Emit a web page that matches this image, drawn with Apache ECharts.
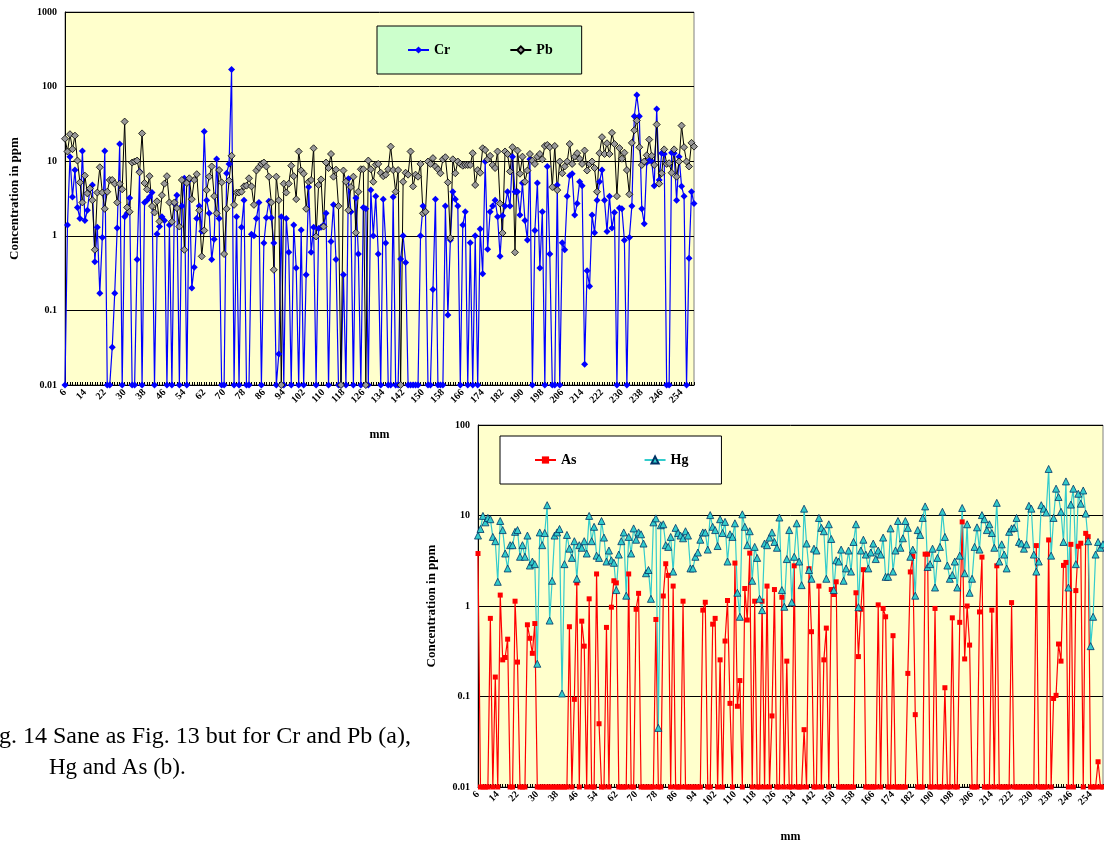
<!DOCTYPE html>
<html>
<head>
<meta charset="utf-8">
<script src="https://cdn.jsdelivr.net/npm/echarts@6/dist/echarts.min.js"></script>
<style>
  html, body { margin: 0; padding: 0; background: #fff; }
  #chart { width: 1104px; height: 844px; }
</style>
</head>
<body>
<div id="chart"></div>
<script>
// depth in mm (one point per mm)
var mm = [
  6,7,8,9,10,11,12,13,14,15,16,17,18,19,20,21,22,23,24,25,
  26,27,28,29,30,31,32,33,34,35,36,37,38,39,40,41,42,43,44,45,
  46,47,48,49,50,51,52,53,54,55,56,57,58,59,60,61,62,63,64,65,
  66,67,68,69,70,71,72,73,74,75,76,77,78,79,80,81,82,83,84,85,
  86,87,88,89,90,91,92,93,94,95,96,97,98,99,100,101,102,103,104,105,
  106,107,108,109,110,111,112,113,114,115,116,117,118,119,120,121,122,123,124,125,
  126,127,128,129,130,131,132,133,134,135,136,137,138,139,140,141,142,143,144,145,
  146,147,148,149,150,151,152,153,154,155,156,157,158,159,160,161,162,163,164,165,
  166,167,168,169,170,171,172,173,174,175,176,177,178,179,180,181,182,183,184,185,
  186,187,188,189,190,191,192,193,194,195,196,197,198,199,200,201,202,203,204,205,
  206,207,208,209,210,211,212,213,214,215,216,217,218,219,220,221,222,223,224,225,
  226,227,228,229,230,231,232,233,234,235,236,237,238,239,240,241,242,243,244,245,
  246,247,248,249,250,251,252,253,254,255,256,257,258,259
];

// (a) Cr and Pb, ppm
var cr = [
  0.01, 1.4, 11.5, 3.3, 7.6, 2.4, 1.7, 13.7, 1.6, 2.2,
  4.2, 4.8, 0.45, 1.3, 0.17, 0.95, 13.7, 0.01, 0.01, 0.032,
  0.17, 1.27, 17, 0.01, 1.8, 2.0, 3.2, 0.01, 0.01, 0.48,
  7.3, 0.01, 2.8, 3.0, 3.3, 3.8, 0.01, 1.06, 1.33, 1.8,
  1.6, 0.01, 1.4, 0.01, 2.7, 3.5, 0.01, 2.5, 5.9, 0.01,
  5.6, 0.2, 0.38, 1.7, 2.5, 1.15, 25, 3.0, 2.0, 0.48,
  0.9, 10.7, 1.7, 0.01, 0.01, 6.9, 9.2, 170, 0.01, 1.8,
  0.01, 1.3, 3.0, 0.01, 0.01, 1.05, 1.0, 1.7, 2.8, 0.01,
  0.8, 1.75, 2.9, 1.75, 0.8, 0.01, 0.026, 1.8, 0.01, 1.7,
  0.6, 0.01, 1.4, 0.37, 0.01, 1.2, 0.01, 0.3, 4.5, 0.6,
  1.3, 0.01, 1.25, 1.3, 1.4, 2.0, 0.01, 0.84, 2.6, 0.48,
  0.01, 0.01, 0.3, 0.01, 5.8, 2.1, 0.01, 3.2, 0.57, 0.01,
  2.4, 2.3, 0.01, 4.1, 1.0, 3.4, 0.57, 0.01, 3.1, 0.8,
  0.01, 0.01, 3.3, 0.01, 0.01, 0.49, 1.0, 0.44, 0.01, 0.01,
  0.01, 0.01, 0.01, 1.0, 2.5, 2.1, 0.01, 0.01, 0.19, 3.1,
  0.01, 0.01, 0.01, 2.5, 0.087, 0.88, 3.9, 3.1, 2.5, 0.01,
  1.4, 2.1, 0.01, 0.81, 0.01, 1.0, 0.01, 1.23, 0.31, 9.9,
  0.66, 2.1, 2.5, 3.0, 1.8, 0.53, 1.85, 2.5, 3.9, 2.5,
  11.5, 3.9, 3.9, 1.9, 5.1, 1.6, 0.88, 10.6, 0.01, 1.18,
  5.1, 0.37, 2.1, 0.01, 8.5, 0.57, 0.01, 0.01, 4.8, 0.01,
  0.81, 0.65, 3.4, 6.4, 6.8, 1.9, 2.7, 5.3, 4.7, 0.019,
  0.34, 0.21, 1.9, 1.1, 3.0, 5.3, 7.6, 3.0, 1.14, 3.4,
  1.27, 2.05, 0.01, 2.35, 2.3, 0.87, 0.01, 0.95, 2.5, 40,
  77, 40, 2.3, 1.45, 9.6, 10.2, 9.9, 4.7, 50, 5.6,
  12.8, 12.5, 0.01, 0.01, 13, 12.8, 3.0, 11.5, 4.6, 3.4,
  0.01, 0.5, 3.9, 2.7
];
var pb = [
  20, 13.5, 23, 14.5, 22, 10.2, 5.2, 2.8, 6.4, 3.7,
  4.3, 3.0, 0.65, 3.8, 8.3, 3.8, 2.3, 3.9, 5.6, 5.6,
  5.0, 2.8, 5.0, 4.2, 34, 2.4, 2.1, 9.6, 9.9, 10.2,
  7.1, 23.6, 5.1, 4.2, 6.3, 2.5, 2.05, 2.9, 1.56, 3.5,
  5.0, 6.3, 2.8, 1.54, 2.8, 2.35, 1.33, 5.6, 0.65, 5.1,
  5.9, 3.1, 5.6, 6.7, 2.2, 0.53, 1.18, 4.1, 6.2, 8.5,
  3.4, 2.0, 7.6, 5.2, 0.57, 2.3, 5.5, 11.8, 2.6, 3.8,
  3.8, 3.9, 4.6, 4.7, 5.9, 4.6, 2.6, 7.5, 8.3, 9.2,
  9.6, 8.5, 6.2, 2.8, 0.35, 6.2, 3.0, 0.01, 5.0, 3.8,
  5.0, 8.7, 6.3, 3.1, 13.5, 7.5, 6.8, 2.3, 5.3, 5.6,
  14.9, 0.98, 4.8, 5.7, 1.33, 9.6, 8.1, 12.5, 6.2, 7.7,
  2.5, 0.01, 7.5, 5.3, 2.2, 4.5, 6.2, 1.1, 3.9, 7.8,
  7.8, 0.01, 10.2, 7.8, 5.3, 9.0, 9.2, 7.0, 6.3, 6.6,
  7.8, 15.7, 7.6, 3.9, 7.6, 0.01, 5.3, 7.0, 6.6, 13.5,
  4.6, 6.6, 6.2, 9.2, 2.0, 2.1, 9.9, 9.2, 11, 8.5,
  7.8, 6.9, 10.6, 11.3, 5.2, 0.93, 10.6, 6.9, 9.9, 9.2,
  8.7, 8.9, 8.9, 8.9, 12.8, 4.8, 7.6, 7.0, 14.9, 14.1,
  10.6, 11.8, 8.9, 8.1, 13.5, 2.7, 1.09, 13.5, 12.5, 7.3,
  15.4, 0.6, 13.9, 6.8, 11.5, 5.3, 7.5, 12.5, 10.2, 9.2,
  11.5, 12.5, 10.6, 16, 16.5, 15.4, 4.5, 16, 4.1, 9.9,
  6.9, 8.5, 9.9, 17, 9.2, 11.5, 12.8, 10.8, 9.2, 13.9,
  7.5, 9.2, 9.9, 8.1, 3.9, 12.8, 21, 12.5, 17.4, 12.5,
  24, 17, 3.4, 15, 10.8, 13, 7.6, 3.6, 17.6, 26,
  35, 15.4, 8.9, 9.9, 12, 19.5, 11.8, 8.9, 31, 5.0,
  6.9, 14.4, 9.2, 9.4, 7.0, 14.4, 6.2, 9.9, 30, 15.4,
  9.9, 8.5, 17.6, 15.7
];

// (b) As and Hg, ppm
var as = [
  3.8, 0.01, 0.01, 0.01, 0.01, 0.73, 0.01, 0.164, 0.01, 1.32,
  0.254, 0.27, 0.43, 0.01, 0.01, 1.13, 0.24, 0.01, 0.01, 0.01,
  0.62, 0.44, 0.3, 0.64, 0.01, 0.01, 0.01, 0.01, 0.01, 0.01,
  0.01, 0.01, 0.01, 0.01, 0.01, 0.01, 0.01, 0.59, 0.01, 0.093,
  1.8, 0.01, 0.68, 0.36, 0.01, 1.2, 0.01, 0.01, 2.26, 0.05,
  0.01, 0.01, 0.58, 0.01, 0.97, 1.9, 1.8, 0.01, 0.01, 0.01,
  0.01, 2.26, 0.01, 0.01, 0.92, 1.38, 0.01, 0.01, 0.01, 0.01,
  0.01, 0.01, 0.71, 0.01, 0.01, 1.29, 2.93, 2.18, 0.01, 1.66,
  0.01, 0.01, 0.01, 1.13, 0.01, 0.01, 0.01, 0.01, 0.01, 0.01,
  0.01, 0.9, 1.1, 0.01, 0.01, 0.63, 0.73, 0.01, 0.254, 0.01,
  0.41, 1.15, 0.084, 0.01, 2.98, 0.078, 0.15, 0.01, 1.56, 0.7,
  3.84, 0.01, 1.13, 0.01, 0.01, 1.13, 0.01, 1.66, 0.01, 0.061,
  1.52, 0.01, 0.01, 1.25, 0.01, 0.246, 0.01, 0.01, 2.78, 0.01,
  0.01, 0.01, 0.043, 0.01, 2.58, 0.52, 0.01, 0.01, 1.66, 0.01,
  0.254, 0.57, 0.01, 1.52, 1.34, 1.85, 0.01, 0.01, 0.01, 0.01,
  0.01, 0.01, 0.01, 1.4, 0.276, 0.92, 2.52, 0.01, 0.01, 0.01,
  0.01, 0.01, 1.03, 0.01, 0.94, 0.76, 0.01, 0.01, 0.47, 0.01,
  0.01, 0.01, 0.01, 0.01, 0.18, 2.38, 3.53, 0.063, 0.01, 0.01,
  0.01, 3.74, 3.74, 0.01, 0.01, 0.94, 0.01, 0.01, 0.01, 0.125,
  0.01, 0.01, 0.74, 0.01, 0.01, 0.66, 8.5, 0.26, 1.0, 0.37,
  0.01, 0.01, 0.01, 0.86, 3.47, 0.01, 0.01, 0.01, 0.9, 0.01,
  2.78, 0.01, 0.01, 0.01, 0.01, 0.01, 1.09, 0.01, 0.01, 0.01,
  0.01, 0.01, 0.01, 0.01, 0.01, 0.01, 4.65, 0.01, 0.01, 0.01,
  0.01, 5.37, 0.01, 0.095, 0.103, 0.38, 0.246, 2.81, 3.03, 0.01,
  4.8, 0.01, 1.48, 4.57, 4.94, 0.01, 6.35, 5.84, 0.01, 0.01,
  0.01, 0.019, 0.01, 0.01
];
var hg = [
  6.0, 7.1, 9.9, 8.4, 9.4, 9.1, 5.8, 5.2, 1.85, 8.7,
  6.9, 3.8, 2.6, 4.7, 4.7, 6.6, 6.9, 3.5, 4.7, 3.5,
  6.0, 2.8, 3.1, 2.9, 0.23, 6.5, 4.7, 6.4, 13, 0.69,
  1.9, 6.0, 6.5, 7.1, 0.108, 2.9, 6.1, 4.3, 3.4, 5.2,
  2.0, 4.7, 4.4, 5.2, 3.8, 9.9, 5.2, 7.5, 3.6, 3.4,
  8.7, 5.7, 3.1, 4.1, 3.2, 3.0, 1.5, 3.7, 5.2, 6.5,
  1.3, 5.8, 3.8, 7.2, 5.4, 6.5, 6.2, 4.9, 2.3, 2.5,
  1.2, 8.4, 9.3, 0.045, 7.8, 8.0, 4.7, 4.5, 5.8, 2.4,
  7.3, 6.4, 6.0, 5.6, 6.7, 6.0, 2.6, 2.6, 3.5, 3.9,
  5.4, 6.5, 6.5, 4.2, 10.1, 7.5, 6.9, 4.6, 9.1, 6.4,
  8.5, 3.1, 6.2, 5.8, 8.2, 1.4, 0.76, 10.3, 7.5, 4.7,
  6.7, 1.9, 4.5, 3.4, 1.2, 0.9, 4.9, 4.7, 5.7, 6.5,
  5.1, 4.4, 9.5, 1.5, 0.98, 3.3, 6.9, 1.1, 3.5, 8.2,
  3.1, 1.7, 11.9, 4.9, 2.5, 2.0, 4.3, 4.1, 9.4, 7.3,
  6.7, 2.0, 8.0, 5.5, 1.5, 3.2, 3.1, 4.2, 1.9, 2.6,
  4.1, 2.4, 5.1, 8.0, 0.97, 4.1, 5.4, 3.7, 2.6, 3.9,
  4.9, 3.3, 4.1, 3.7, 5.7, 2.1, 2.1, 7.2, 2.4, 4.1,
  8.7, 4.4, 5.6, 8.7, 7.3, 3.5, 4.2, 1.3, 6.9, 6.1,
  9.4, 12.6, 2.7, 2.9, 4.3, 1.6, 3.4, 4.5, 11, 5.8,
  2.8, 2.0, 2.2, 3.1, 1.6, 3.6, 12.1, 2.3, 8.0, 1.4,
  2.0, 4.5, 7.4, 4.2, 10.1, 9.1, 6.9, 8.0, 6.4, 4.4,
  13.8, 3.1, 4.8, 3.7, 2.6, 6.6, 7.2, 7.3, 9.4, 5.1,
  4.9, 4.3, 4.8, 12.8, 11.9, 3.7, 2.4, 3.1, 13, 11.9,
  10.8, 32.7, 3.6, 9.4, 19.8, 16, 11, 5.1, 23.8, 1.6,
  13.2, 19.8, 2.9, 17.4, 13.5, 18.9, 10.5, 5.2, 0.36, 0.76,
  3.7, 5.1, 4.4, 4.8
];

var serif = "'Liberation Serif', 'Times New Roman', serif";

function logLabel (v) {
  return String(Number(v.toPrecision(3)))
}

function xAxisFor (gridIndex) {
  return {
    type: 'category',
    gridIndex: gridIndex,
    data: mm,
    boundaryGap: false,
    name: 'mm',
    nameLocation: 'middle',
    nameGap: 44,
    nameTextStyle: { fontFamily: serif, fontWeight: 'bold', fontSize: 12, color: '#000' },
    axisLine: { lineStyle: { color: '#000', width: 1 } },
    axisTick: { show: true, inside: true, length: 3, interval: 0, lineStyle: { color: '#000' } },
    axisLabel: {
      interval: 7, rotate: 45, margin: 6, hideOverlap: false,
      fontFamily: serif, fontWeight: 'bold', fontSize: 10, color: '#000'
    },
    splitLine: { show: false }
  }
}

function yAxisFor (gridIndex, max, gap) {
  return {
    type: 'log',
    logBase: 10,
    gridIndex: gridIndex,
    min: 0.01,
    max: max,
    name: 'Concentration in ppm',
    nameLocation: 'middle',
    nameGap: gap,
    nameRotate: 90,
    nameTextStyle: { fontFamily: serif, fontWeight: 'bold', fontSize: 13, color: '#000' },
    axisLine: { show: true, lineStyle: { color: '#000', width: 1 } },
    axisTick: { show: false },
    axisLabel: { formatter: logLabel, margin: 8, fontFamily: serif, fontWeight: 'bold', fontSize: 10, color: '#000' },
    splitLine: { show: true, lineStyle: { color: '#000', width: 1 } },
    minorTick: { show: false },
    minorSplitLine: { show: false }
  }
}

var legendText = { fontFamily: serif, fontWeight: 'bold', fontSize: 14, color: '#000' };

var option = {
  animation: false,
  backgroundColor: '#fff',
  grid: [
    { left: 60, top: 12, width: 634, height: 373, show: true, backgroundColor: '#FFFFCC', borderColor: '#808080', borderWidth: 1 },
    { left: 478, top: 425, width: 625, height: 365, show: true, backgroundColor: '#FFFFCC', borderColor: '#808080', borderWidth: 1 }
  ],
  xAxis: [xAxisFor(0), xAxisFor(1)],
  yAxis: [yAxisFor(0, 1000, 44), yAxisFor(1, 100, 40)],
  legend: [
    {
      data: ['Cr', 'Pb'],
      left: 377, top: 26,
      padding: [17, 29, 17, 30],
      itemGap: 59, itemWidth: 21, itemHeight: 9,
      backgroundColor: '#CCFFCC', borderColor: '#000', borderWidth: 1,
      textStyle: legendText
    },
    {
      data: ['As', 'Hg'],
      left: 500, top: 436,
      padding: [17, 33, 17, 34],
      itemGap: 67, itemWidth: 21, itemHeight: 9,
      backgroundColor: '#FFFFFF', borderColor: '#000', borderWidth: 1,
      textStyle: legendText
    }
  ],
  graphic: [
    {
      type: 'text', left: -21, top: 725,
      style: { text: 'Fig. 14 Sane as Fig. 13 but for Cr and Pb (a),', font: '24px ' + serif, fill: '#000' }
    },
    {
      type: 'text', left: 49, top: 756,
      style: { text: 'Hg and As (b).', font: '23px ' + serif, fill: '#000' }
    }
  ],
  series: [
    {
      name: 'Cr', type: 'line', xAxisIndex: 0, yAxisIndex: 0, data: cr,
      symbol: 'diamond', symbolSize: 7, showAllSymbol: true,
      itemStyle: { color: '#0000FF' },
      lineStyle: { color: '#0000FF', width: 1.2 }
    },
    {
      name: 'Pb', type: 'line', xAxisIndex: 0, yAxisIndex: 0, data: pb,
      symbol: 'diamond', symbolSize: 7, showAllSymbol: true,
      itemStyle: { color: '#999999', borderColor: '#000', borderWidth: 0.8 },
      lineStyle: { color: '#000', width: 1 }
    },
    {
      name: 'As', type: 'line', xAxisIndex: 1, yAxisIndex: 1, data: as,
      symbol: 'rect', symbolSize: 5, showAllSymbol: true,
      itemStyle: { color: '#FF0000' },
      lineStyle: { color: '#FF0000', width: 1.2 }
    },
    {
      name: 'Hg', type: 'line', xAxisIndex: 1, yAxisIndex: 1, data: hg,
      symbol: 'triangle', symbolSize: 7, showAllSymbol: true,
      itemStyle: { color: '#33CCCC', borderColor: '#003366', borderWidth: 0.8 },
      lineStyle: { color: '#33CCCC', width: 1.2 }
    }
  ]
}

var myChart = echarts.init(document.getElementById('chart'));
myChart.setOption(option);
</script>
</body>
</html>
